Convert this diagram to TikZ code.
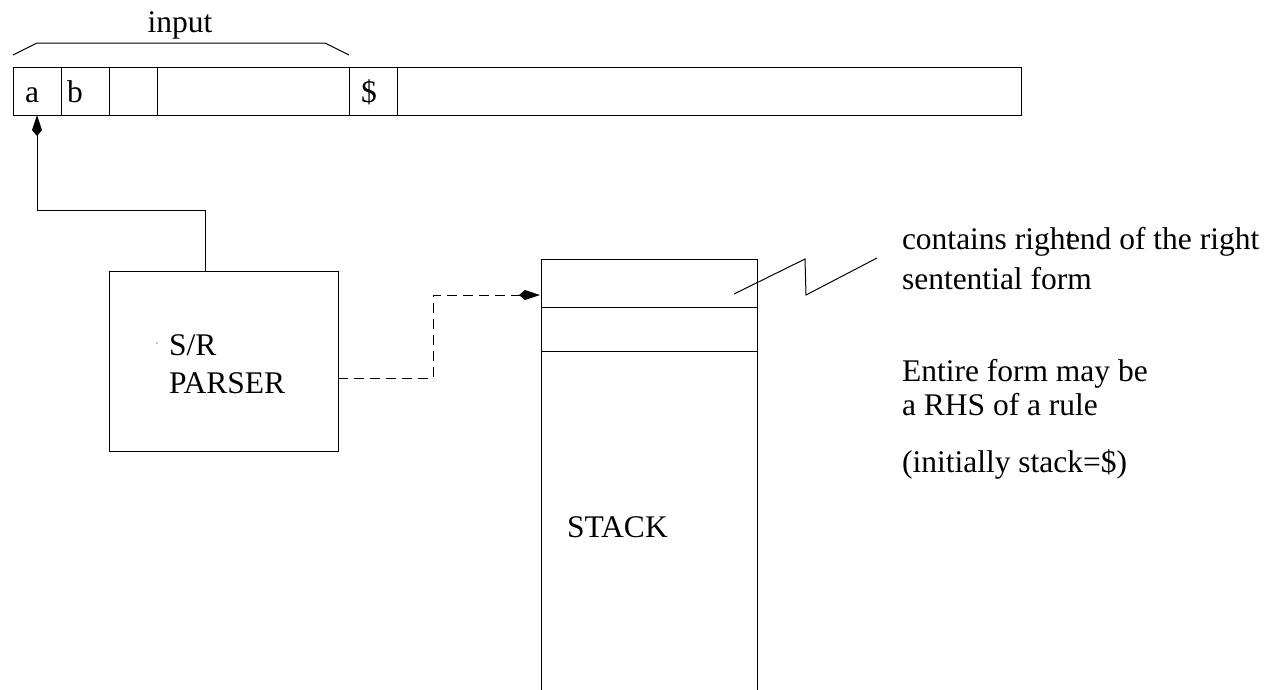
\documentclass[tikz,border=0pt]{standalone}
\usepackage{fontspec}
\setmainfont{Liberation Serif}
\usetikzlibrary{arrows.meta}
\begin{document}
\begin{tikzpicture}[x=1pt,y=-1pt,line width=1pt,
  cellbox/.style={draw,line width=1pt,inner sep=0pt,outer sep=0pt,anchor=north west},
  txt/.style={anchor=base west,inner sep=0pt,outer sep=0pt,font=\fontsize{31.5}{34}\selectfont},
  kitetip/.style={-{Kite[length=21pt,width=10pt,inset=6pt]}},
  dashline/.style={dash pattern=on 10pt off 6pt}]
\useasboundingbox (0,0) rectangle (1274,689);
\begin{scope}
\clip (0,0) rectangle (1274,689);
% input tape
\node[cellbox,minimum width=48pt,minimum height=48pt] (c1) at (13,67) {};
\node[cellbox,minimum width=48pt,minimum height=48pt] (c2) at (61,67) {};
\node[cellbox,minimum width=48pt,minimum height=48pt] (c3) at (109,67) {};
\node[cellbox,minimum width=192pt,minimum height=48pt] (c4) at (157,67) {};
\node[cellbox,minimum width=48pt,minimum height=48pt] (c5) at (349,67) {};
\node[cellbox,minimum width=624pt,minimum height=48pt] (c6) at (397,67) {};
\node[txt] (ta) at (25,102) {a};
\node[txt] (tb) at (67,102) {b};
\node[txt] (td) at (361,102) {\$};
% input brace
\draw (c1.north west) ++(0,-12) coordinate (bl) -- ++(24,-12) -- (325,43) -- (349,55) coordinate (br);
\node[txt,anchor=base] (input) at (180,32) {input};
% parser
\node[cellbox,minimum width=229pt,minimum height=180pt] (parser) at (109,271) {};
\node[txt] (sr) at (169,355) {S/R};
\node[txt] (ps) at (169,393) {PARSER};
\fill (157,343) circle (0.6pt);
% stack
\node[cellbox,minimum width=216pt,minimum height=48pt] (s1) at (541,259) {};
\node[cellbox,minimum width=216pt,minimum height=44pt] (s2) at (541,307) {};
\node[cellbox,minimum width=216pt,minimum height=400pt] (s3) at (541,351) {};
\node[txt] (stk) at (567,537) {STACK};
% connectors
\draw[kitetip] ([xshift=96pt]parser.north west) -- ++(0,-61) -| (c1.south);
\draw[dashline] ([yshift=73pt]parser.south east) -- ++(95,0) coordinate (dk) |- ([yshift=-12pt]s1.west);
\draw[kitetip] ([xshift=-30pt,yshift=-12pt]s1.west) -- ([xshift=-1pt,yshift=-12pt]s1.west);
% zigzag pointer
\coordinate (zz) at (877,258);
\draw ([xshift=193pt,yshift=-35pt]s1.north west) -- (805,259) -- (806,295) -- (zz);
% annotations
\node[txt] (n1) at (902,249) {contains right};
\node[txt] (n1b) at (1066,249) {end of the right};
\node[txt] (n2) at (902,289) {sentential form};
\node[txt] (n3) at (902,381) {Entire form may be};
\node[txt] (n4) at (902,415) {a RHS of a rule};
\node[txt] (n5) at (902,472) {(initially stack=\$)};
\end{scope}
\end{tikzpicture}
\end{document}
